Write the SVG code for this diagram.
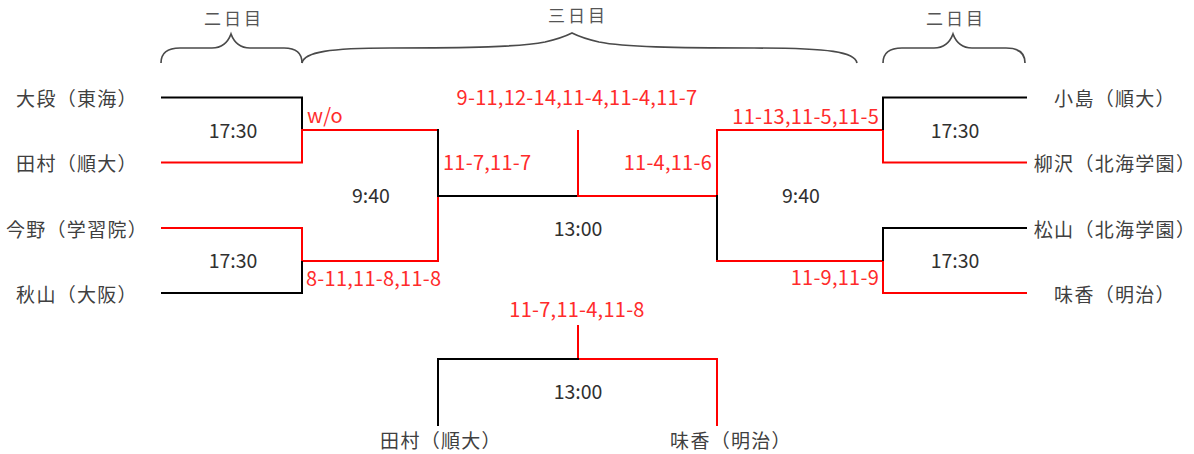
<svg xmlns="http://www.w3.org/2000/svg" width="1194" height="454" viewBox="0 0 1194 454">
<style>
text{font-family:"Noto Sans CJK JP","Noto Sans",sans-serif;dominant-baseline:central}
.name{font-size:19px;letter-spacing:1.3px;fill:#404040;text-anchor:middle}
.time{font-size:19.5px;fill:#303030;text-anchor:middle}
.score{font-size:20px;letter-spacing:0.25px;fill:#ff2b2b}
.hdr{font-size:17px;letter-spacing:3px;fill:#555;text-anchor:middle}
.k{fill:none;stroke:#000;stroke-width:2}
.r{fill:none;stroke:#ff0000;stroke-width:2}
.brace{fill:none;stroke:#4a4a4a;stroke-width:1.7}
</style>
<rect width="1194" height="454" fill="#fff"/>
<g id="days">
<text class="hdr" x="234" y="17">二日目</text>
<text class="hdr" x="578" y="14">三日目</text>
<text class="hdr" x="956" y="17">二日目</text>
<path class="brace" d="M161,63 C161,53 168,48 180,48 L212,48 C222,48 228,42 231,34 C234,42 240,48 250,48 L284,48 C296,48 302,53 302,63"/>
<path class="brace" d="M302,63 C304,52 330,48 390,48 C470,48 520,47 545,42 C558,39 566,36 572,33 C578,36 586,39 599,42 C624,47 674,48 754,48 C830,48 855,52 857,63"/>
<path class="brace" d="M883,63 C883,53 890,48 902,48 L934,48 C944,48 950,42 953,34 C956,42 962,48 972,48 L1006,48 C1018,48 1025,53 1025,63"/>
</g>
<g id="connectors">
<path class="k" d="M161,97.5 H302 V130"/>
<path class="r" d="M302,129 V162.5 H161"/>
<path class="r" d="M301,130 H439"/>
<path class="k" d="M438,129 V196"/>
<path class="r" d="M438,196 V261 H301"/>
<path class="r" d="M161,228 H302 V262"/>
<path class="k" d="M302,261 V293 H161"/>
<path class="k" d="M437,196 H578"/>
<path class="r" d="M578,130 V196 H718"/>
<path class="r" d="M884,130 H717 V196"/>
<path class="k" d="M717,195 V261"/>
<path class="r" d="M716,261 H884"/>
<path class="k" d="M1027,97.5 H883 V131"/>
<path class="r" d="M883,130 V162.5 H1027"/>
<path class="k" d="M1027,228 H883 V262"/>
<path class="r" d="M883,261 V293 H1027"/>
<path class="r" d="M578,325 V359 H717 V426"/>
<path class="k" d="M579,359 H438 V426"/>
</g>
<g id="player-oodan"><text class="name" x="77" y="97">大段（東海）</text></g>
<g id="player-tamura"><text class="name" x="77" y="162">田村（順大）</text></g>
<g id="player-imano"><text class="name" x="77" y="228">今野（学習院）</text></g>
<g id="player-akiyama"><text class="name" x="77" y="293">秋山（大阪）</text></g>
<g id="player-kojima"><text class="name" x="1115" y="97">小島（順大）</text></g>
<g id="player-yanagisawa"><text class="name" x="1115" y="162">柳沢（北海学園）</text></g>
<g id="player-matsuyama"><text class="name" x="1115" y="228">松山（北海学園）</text></g>
<g id="player-ajika"><text class="name" x="1115" y="293">味香（明治）</text></g>
<g id="final-tamura"><text class="name" x="441" y="439">田村（順大）</text></g>
<g id="final-ajika"><text class="name" x="731" y="439">味香（明治）</text></g>
<g id="match-l1"><text class="time" x="233" y="129">17:30</text><text class="score" x="307" y="114">w/o</text></g>
<g id="match-l2"><text class="time" x="233" y="259">17:30</text><text class="score" x="306" y="277">8-11,11-8,11-8</text></g>
<g id="match-lsf"><text class="time" x="371" y="194">9:40</text><text class="score" x="443" y="161">11-7,11-7</text></g>
<g id="match-r1"><text class="time" x="955" y="129">17:30</text><text class="score" x="879" y="115" text-anchor="end">11-13,11-5,11-5</text></g>
<g id="match-r2"><text class="time" x="955" y="259">17:30</text><text class="score" x="879" y="276" text-anchor="end">11-9,11-9</text></g>
<g id="match-rsf"><text class="time" x="801" y="194">9:40</text><text class="score" x="712" y="161" text-anchor="end">11-4,11-6</text></g>
<g id="match-center"><text class="time" x="578" y="227">13:00</text><text class="score" x="577" y="96" text-anchor="middle">9-11,12-14,11-4,11-4,11-7</text></g>
<g id="match-final"><text class="time" x="578" y="390">13:00</text><text class="score" x="577" y="308" text-anchor="middle">11-7,11-4,11-8</text></g>
</svg>
